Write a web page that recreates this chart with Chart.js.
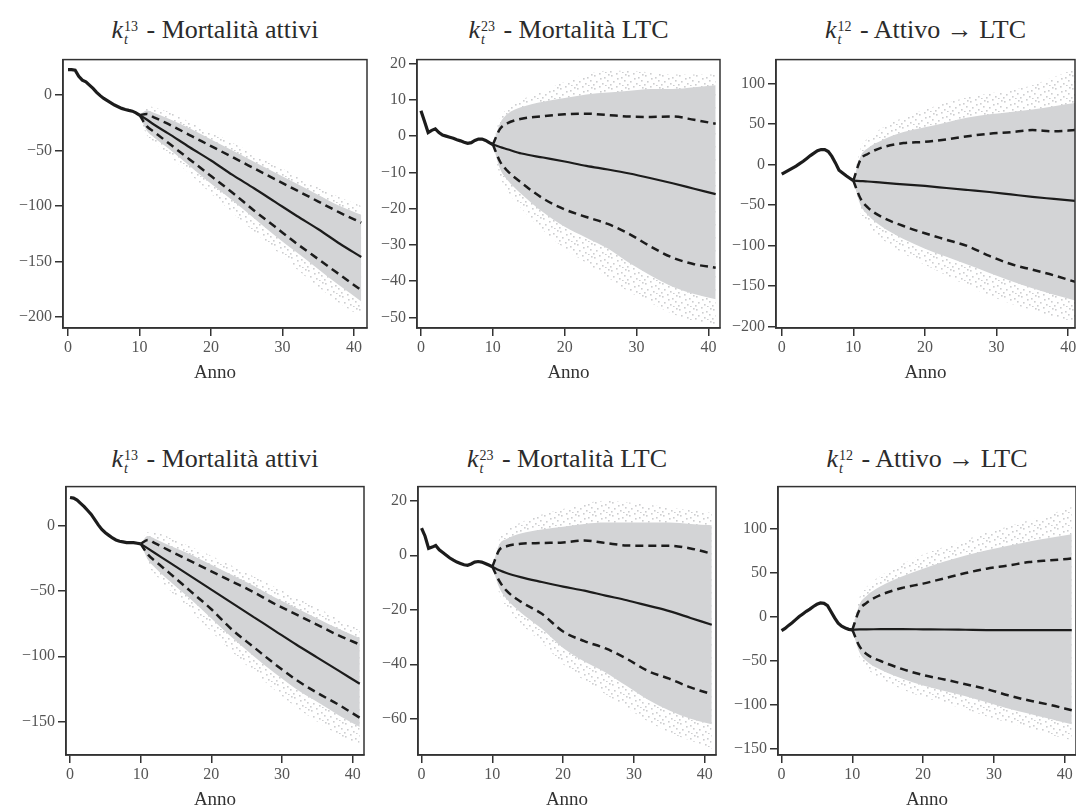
<!DOCTYPE html>
<html lang="it">
<head>
<meta charset="utf-8">
<title>Proiezioni k_t</title>
<script src="https://cdn.jsdelivr.net/npm/chart.js@4.4.1/dist/chart.umd.min.js"></script>
<style>
  html, body { margin: 0; padding: 0; background: #fff; }
  body { width: 1076px; height: 812px; position: relative; overflow: hidden; font-family: "DejaVu Serif", serif; }
  .panel { position: absolute; }
  .ttl { position: absolute; text-align: center; font-family: "Liberation Serif", "Times New Roman", "DejaVu Serif", serif; font-size: 26px; line-height: 28px; color: #2b2b2b; white-space: nowrap; }
  .st { display: inline-block; font-size: 14px; line-height: 13px; vertical-align: -6px; margin-left: 1px; margin-right: 2px; text-align: left; }
  .st span { display: block; }
  .st .sb { font-style: italic; }
</style>
</head>
<body>
<script>
// anni osservati e proiettati
const histYears = [0, 0.5, 1, 1.5, 2, 2.5, 3, 3.5, 4, 4.5, 5, 5.5, 6, 6.5, 7, 7.5, 8, 8.5, 9, 9.5, 10];
const projYears = [10, 11, 12, 14, 17, 20, 23, 26, 29, 32, 35, 38, 41];
const xTicks = [0, 10, 20, 30, 40];

const titleNames = ['Mortalità attivi', 'Mortalità LTC', 'Attivo \u2192 LTC'];
const titleSups = ['13', '23', '12'];

// riga 1 - k13 mortalità attivi
const top13Hist = [23, 23, 22.5, 17, 13.5, 12, 9, 6, 2.5, -0.5, -3, -5, -7, -9, -10.5, -12, -13, -13.8, -14.5, -16, -18];
const top13Median = [-18, -22, -26.5, -34.5, -47, -59, -72, -84, -96.5, -109, -121, -134, -146];
const top13Upper = [-18, -17, -20, -26, -36, -46, -56, -66, -76, -86, -96, -106, -115];
const top13Lower = [-18, -28, -33, -43, -58, -73, -88, -104, -119, -134, -148, -162, -176];
const top13DenseHi = [-18, -14, -16, -21, -30, -40, -50, -60, -70, -80, -90, -100, -108];
const top13DenseLo = [-18, -32, -38, -48, -64, -80, -95, -111, -127, -142, -157, -172, -186];
const top13OuterHi = [-18, -10, -11, -15, -24, -33, -43, -53, -63, -73, -83, -92, -100];
const top13OuterLo = [-18, -36, -42, -54, -71, -89, -106, -123, -140, -157, -173, -188, -200];
const top13Ticks = [-200, -150, -100, -50, 0];

// riga 1 - k23 mortalità LTC
const top23Hist = [7, 4, 1, 1.6, 2, 1, 0.3, 0, -0.3, -0.6, -1, -1.3, -1.7, -2, -1.8, -1.2, -0.8, -0.8, -1.2, -1.8, -2.3];
const top23Median = [-2.3, -3, -3.6, -4.8, -5.9, -7, -8.2, -9.2, -10.3, -11.6, -13, -14.5, -16];
const top23Upper = [-2.3, 2, 3.5, 4.8, 5.5, 6, 6.2, 5.8, 5.4, 5.3, 5.4, 4.5, 3.4];
const top23Lower = [-2.3, -7, -9.5, -12.9, -17.2, -20.2, -22.3, -24.2, -27, -30.5, -33.5, -35.3, -36.3];
const top23DenseHi = [-2.3, 3.5, 6, 8, 9.5, 10.5, 11.5, 12, 12.5, 13, 13, 13.5, 14];
const top23DenseLo = [-2.3, -9, -12, -16, -21, -25, -28, -31, -35, -38.5, -41.5, -43.5, -45];
const top23OuterHi = [-2.3, 5, 7.5, 10, 12.5, 15, 17, 18, 18, 17.5, 17, 17, 17];
const top23OuterLo = [-2.3, -11, -15, -20, -26, -31, -35, -39, -43, -46, -49, -51, -52];
const top23Ticks = [-50, -40, -30, -20, -10, 0, 10, 20];

// riga 1 - k12 attivo -> LTC
const top12Hist = [-12, -9.5, -7, -4.5, -2, 1, 4, 7.5, 11, 14, 17, 18.5, 18.5, 16, 10, 2, -7, -10.5, -14, -17, -20];
const top12Median = [-20, -20.5, -21, -22.5, -24.5, -26.5, -29, -31.5, -34, -37, -40, -42.5, -45];
const top12Upper = [-20, 6, 13, 21, 26.5, 28, 31, 35, 38, 40, 42.5, 41, 42.5];
const top12Lower = [-20, -42, -53, -65, -76, -85, -93, -101, -113, -123, -130, -137, -145];
const top12DenseHi = [-20, 10, 20, 30, 40, 46, 52, 58, 62, 65, 68, 72, 76];
const top12DenseLo = [-20, -50, -62, -77, -92, -104, -114, -124, -134, -144, -153, -161, -168];
const top12OuterHi = [-20, 20, 32, 45, 58, 68, 76, 83, 88, 92, 98, 108, 118];
const top12OuterLo = [-20, -60, -75, -92, -110, -124, -137, -150, -162, -172, -180, -188, -194];
const top12Ticks = [-200, -150, -100, -50, 0, 50, 100];

// riga 2 - k13 mortalità attivi
const bot13Hist = [21.5, 21, 19.5, 17, 14.5, 11.5, 8.5, 4.5, 0.5, -3, -5.5, -7.5, -9.5, -11, -12, -12.5, -13, -13, -13, -13.5, -14];
const bot13Median = [-14, -17.5, -21, -28, -38.5, -49, -59.5, -70, -80.5, -91, -101, -111, -121];
const bot13Upper = [-14, -11, -13.5, -19, -27, -35, -43, -51, -60, -68, -76, -84, -91];
const bot13Lower = [-14, -22, -27, -36, -50, -64, -80, -93, -106, -118, -128, -137, -147];
const bot13DenseHi = [-14, -8, -10, -15, -22, -30, -38, -46, -55, -63, -71, -79, -86];
const bot13DenseLo = [-14, -26, -32, -42, -56, -71, -86, -100, -113, -125, -135, -145, -154];
const bot13OuterHi = [-14, -5, -5, -9, -16, -23, -31, -39, -47, -55, -63, -71, -78];
const bot13OuterLo = [-14, -30, -37, -49, -65, -81, -97, -112, -126, -139, -150, -160, -168];
const bot13Ticks = [-150, -100, -50, 0];

// riga 2 - k23 mortalità LTC
const bot23Hist = [10, 7, 2.5, 3, 3.6, 2, 1, 0, -1, -1.8, -2.5, -3, -3.5, -3.7, -3.2, -2.5, -2.3, -2.5, -3, -3.6, -4.2];
const bot23Median = [-4.2, -5.5, -6.5, -8, -9.8, -11.5, -13, -14.8, -16.5, -18.5, -20.5, -23, -25.5];
const bot23Upper = [-4.2, 2, 3.3, 4.2, 4.5, 4.7, 5.4, 4.5, 3.6, 3.5, 3.5, 2.5, 0.6];
const bot23Lower = [-4.2, -9.5, -13, -17, -21.5, -28, -31.5, -34.2, -38, -42.5, -45.3, -48.5, -51];
const bot23DenseHi = [-4.2, 4, 6, 8, 9.5, 10.5, 11.5, 12, 12, 12, 12, 11.5, 11];
const bot23DenseLo = [-4.2, -12, -16, -21, -27, -34, -39, -43, -48, -53, -57, -60, -62];
const bot23OuterHi = [-4.2, 6, 9, 12, 15, 17, 19, 20, 19.5, 18.5, 17.5, 16.5, 15.5];
const bot23OuterLo = [-4.2, -14, -19, -25, -32, -40, -46, -51, -56, -61, -65, -68, -71];
const bot23Ticks = [-60, -40, -20, 0, 20];

// riga 2 - k12 attivo -> LTC
const bot12Hist = [-15.5, -13, -9.5, -6.5, -3, 0.5, 3.5, 6.5, 9, 12, 14.5, 16, 15.5, 13, 6, -1, -7, -10.5, -12.5, -14, -14.6];
const bot12Median = [-14.6, -14, -14, -13.8, -13.8, -14, -14.2, -14.5, -14.8, -15, -14.8, -14.8, -15];
const bot12Upper = [-14.6, 8, 16, 25, 33, 38, 44, 50, 55, 58.5, 62.5, 64.5, 66.5];
const bot12Lower = [-14.6, -33, -42, -50, -59, -66, -71, -76.5, -82, -89, -95, -100, -106];
const bot12DenseHi = [-14.6, 14, 24, 35, 46, 55, 63, 70, 76, 81, 86, 90, 94];
const bot12DenseLo = [-14.6, -40, -50, -60, -70, -78, -84, -90, -97, -104, -110, -116, -122];
const bot12OuterHi = [-14.6, 22, 34, 47, 60, 71, 80, 88, 96, 103, 110, 117, 125];
const bot12OuterLo = [-14.6, -46, -58, -70, -82, -91, -98, -105, -113, -120, -127, -134, -140];
const bot12Ticks = [-150, -100, -50, 0, 50, 100];

// posizione dei riquadri (left, top, right, bottom) e range degli assi
const panels = [
  { kind: 0, box: [63, 57, 367, 328], xr: [-0.7, 41.8], yr: [-210, 32], titleTop: 16,
    hist: top13Hist, median: top13Median, upper: top13Upper, lower: top13Lower,
    denseHi: top13DenseHi, denseLo: top13DenseLo, outerHi: top13OuterHi, outerLo: top13OuterLo, ticks: top13Ticks },
  { kind: 1, box: [417, 57, 720, 328], xr: [-0.55, 41.6], yr: [-52.9, 21.1], titleTop: 16,
    hist: top23Hist, median: top23Median, upper: top23Upper, lower: top23Lower,
    denseHi: top23DenseHi, denseLo: top23DenseLo, outerHi: top23OuterHi, outerLo: top23OuterLo, ticks: top23Ticks },
  { kind: 2, box: [776, 57, 1075, 328], xr: [-0.8, 40.95], yr: [-202, 129.6], titleTop: 16,
    hist: top12Hist, median: top12Median, upper: top12Upper, lower: top12Lower,
    denseHi: top12DenseHi, denseLo: top12DenseLo, outerHi: top12OuterHi, outerLo: top12OuterLo, ticks: top12Ticks },
  { kind: 0, box: [66, 484, 364, 755], xr: [-0.57, 41.6], yr: [-175.5, 29.8], titleTop: 445,
    hist: bot13Hist, median: bot13Median, upper: bot13Upper, lower: bot13Lower,
    denseHi: bot13DenseHi, denseLo: bot13DenseLo, outerHi: bot13OuterHi, outerLo: bot13OuterLo, ticks: bot13Ticks },
  { kind: 1, box: [418, 484, 716, 755], xr: [-0.5, 41.6], yr: [-73.3, 25.2], titleTop: 445,
    hist: bot23Hist, median: bot23Median, upper: bot23Upper, lower: bot23Lower,
    denseHi: bot23DenseHi, denseLo: bot23DenseLo, outerHi: bot23OuterHi, outerLo: bot23OuterLo, ticks: bot23Ticks },
  { kind: 2, box: [778, 484, 1076, 755], xr: [-0.5, 41.6], yr: [-156.9, 148.3], titleTop: 445,
    hist: bot12Hist, median: bot12Median, upper: bot12Upper, lower: bot12Lower,
    denseHi: bot12DenseHi, denseLo: bot12DenseLo, outerHi: bot12OuterHi, outerLo: bot12OuterLo, ticks: bot12Ticks }
];

const AXIS_W = 62, AXIS_H = 60, PAD_TOP = 10, PAD_RIGHT = 4;
const ink = '#1c1c1c';
const serif = '"Liberation Serif", "Times New Roman", "DejaVu Serif", serif';

// puntini sparsi delle simulazioni esterne
function dotPattern() {
  const c = document.createElement('canvas');
  c.width = 17; c.height = 13;
  const g = c.getContext('2d');
  g.fillStyle = '#cdced0';
  [[1, 2], [6, 0], [11, 4], [15, 1], [3, 8], [9, 10], [14, 7], [7, 5], [0, 11], [12, 12]]
    .forEach(([x, y]) => g.fillRect(x, y, 1.6, 1.6));
  return g.createPattern(c, 'repeat');
}
const sparse = dotPattern();

const boxPlugin = {
  id: 'box',
  afterDraw(chart) {
    const { ctx, chartArea: a } = chart;
    ctx.save();
    ctx.strokeStyle = '#333';
    ctx.lineWidth = 1.5;
    ctx.strokeRect(a.left, a.top, a.right - a.left, a.bottom - a.top);
    ctx.restore();
  }
};

function pts(xs, ys) {
  return xs.map((x, i) => ({ x: x, y: ys[i] }));
}

function fmt(v) {
  return v < 0 ? '\u2212' + Math.abs(v) : String(v);
}

panels.forEach(p => {
  const [l, t, r, b] = p.box;

  const ttl = document.createElement('div');
  ttl.className = 'ttl';
  ttl.style.left = l + 'px';
  ttl.style.width = (r - l) + 'px';
  ttl.style.top = p.titleTop + 'px';
  ttl.innerHTML = '<i>k</i><span class="st"><span>' + titleSups[p.kind] +
    '</span><span class="sb">t</span></span> - ' + titleNames[p.kind];
  document.body.appendChild(ttl);

  const wrap = document.createElement('div');
  wrap.className = 'panel';
  wrap.style.left = (l - AXIS_W) + 'px';
  wrap.style.top = (t - PAD_TOP) + 'px';
  wrap.style.width = (r - l + AXIS_W + PAD_RIGHT) + 'px';
  wrap.style.height = (b - t + PAD_TOP + AXIS_H) + 'px';
  const canvas = document.createElement('canvas');
  wrap.appendChild(canvas);
  document.body.appendChild(wrap);

  const line = { pointRadius: 0, fill: false };
  const band = { pointRadius: 0, borderWidth: 0, borderColor: 'transparent', cubicInterpolationMode: 'monotone' };

  new Chart(canvas, {
    type: 'line',
    data: {
      datasets: [
        { ...line, data: pts(histYears, p.hist), borderColor: ink, borderWidth: 3.2, tension: 0, order: 0 },
        { ...line, data: pts(projYears, p.median), borderColor: ink, borderWidth: 2.2, cubicInterpolationMode: 'monotone', order: 1 },
        { ...line, data: pts(projYears, p.upper), borderColor: ink, borderWidth: 2.5, borderDash: [8, 5], cubicInterpolationMode: 'monotone', order: 1 },
        { ...line, data: pts(projYears, p.lower), borderColor: ink, borderWidth: 2.5, borderDash: [8, 5], cubicInterpolationMode: 'monotone', order: 1 },
        { ...band, data: pts(projYears, p.denseHi), fill: '+1', backgroundColor: '#d3d4d6', order: 5 },
        { ...band, data: pts(projYears, p.denseLo), fill: false, order: 6 },
        { ...band, data: pts(projYears, p.outerHi), fill: '+1', backgroundColor: sparse, order: 7 },
        { ...band, data: pts(projYears, p.outerLo), fill: false, order: 8 }
      ]
    },
    options: {
      responsive: true,
      maintainAspectRatio: false,
      animation: false,
      events: [],
      layout: { padding: { top: PAD_TOP, right: PAD_RIGHT, bottom: 0, left: 0 } },
      plugins: { legend: { display: false }, tooltip: { enabled: false } },
      scales: {
        x: {
          type: 'linear',
          min: p.xr[0], max: p.xr[1],
          afterBuildTicks: s => { s.ticks = xTicks.map(v => ({ value: v })); },
          afterFit: s => { s.height = AXIS_H; },
          grid: { drawOnChartArea: false, drawTicks: true, tickLength: 8, color: '#333', lineWidth: 1.5 },
          border: { display: true, color: '#333', width: 1.5 },
          ticks: { color: '#555', font: { family: serif, size: 16 }, padding: 2, maxRotation: 0, autoSkip: false, callback: fmt },
          title: { display: true, text: 'Anno', color: '#333', font: { family: serif, size: 19 }, padding: { top: 2, bottom: 4 } }
        },
        y: {
          min: p.yr[0], max: p.yr[1],
          afterBuildTicks: s => { s.ticks = p.ticks.map(v => ({ value: v })); },
          afterFit: s => { s.width = AXIS_W; },
          grid: { drawOnChartArea: false, drawTicks: true, tickLength: 8, color: '#333', lineWidth: 1.5 },
          border: { display: true, color: '#333', width: 1.5 },
          ticks: { color: '#555', font: { family: serif, size: 16 }, padding: 3, autoSkip: false, callback: fmt }
        }
      }
    },
    plugins: [boxPlugin]
  });
});
</script>
</body>
</html>
